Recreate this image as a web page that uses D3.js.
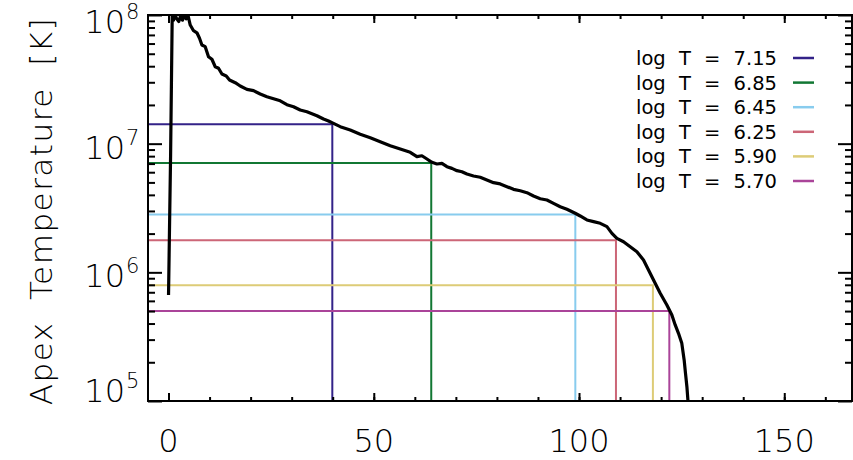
<!DOCTYPE html>
<html>
<head>
<meta charset="utf-8">
<script src="https://cdn.jsdelivr.net/npm/d3@7"></script>
<style>
  body { margin: 0; background: #fff; }
  text { font-family: "DejaVu Sans", sans-serif; font-weight: 200; fill: #000; }
</style>
</head>
<body>
<svg id="chart" width="853" height="460"></svg>
<script>

// apex temperature curve: loop length (x) vs log10 of apex temperature
var curveX = [0, 0.5, 0.9, 1.2, 1.6, 2.0, 2.5, 3.0, 3.4, 3.8, 4.3, 4.8, 5.29, 6.09, 6.92, 7.55, 8.13, 8.94,
  9.74, 10.57, 11.38, 12.18, 13.01, 14.06, 14.86, 16.25, 17.47, 19.10, 20.71, 22.34, 23.97, 25.58,
  27.21, 28.84, 30.45, 32.08, 33.71, 36.15, 37.76, 38.98, 40.19, 41.83, 44.26, 46.70, 49.14, 51.57,
  54.01, 56.45, 58.88, 60.51, 61.73, 62.95, 64.16, 65.38, 66.60, 67.82, 69.04, 70.26, 71.47, 72.69,
  74.30, 75.93, 77.55, 79.18, 80.80, 82.44, 84.04, 85.68, 87.30, 88.92, 90.55, 92.18, 93.79, 95.42,
  97.05, 99.07, 100.29, 101.92, 103.54, 105.17, 106.80, 108.02, 109.23, 110.84, 112.47, 114.10,
  115.71, 116.93, 118.15, 119.78, 121.40, 122.62, 123.43, 124.23, 125.04, 125.61, 125.94, 126.28,
  126.52, 126.8];
var curveLogT = [5.824, 6.9, 8.0, 7.96, 8.0, 7.97, 7.95, 8.0, 7.96, 8.0, 7.97, 7.99, 7.922, 7.878, 7.862,
  7.819, 7.767, 7.754, 7.676, 7.656, 7.598, 7.586, 7.541, 7.526, 7.495, 7.474, 7.448, 7.422, 7.412,
  7.386, 7.365, 7.349, 7.333, 7.303, 7.287, 7.262, 7.248, 7.217, 7.192, 7.176, 7.158, 7.132, 7.106,
  7.073, 7.046, 7.015, 6.984, 6.958, 6.933, 6.899, 6.906, 6.881, 6.855, 6.842, 6.847, 6.821, 6.808,
  6.790, 6.782, 6.764, 6.749, 6.739, 6.718, 6.697, 6.687, 6.666, 6.645, 6.634, 6.619, 6.593, 6.572,
  6.562, 6.536, 6.510, 6.490, 6.459, 6.438, 6.407, 6.394, 6.381, 6.355, 6.303, 6.264, 6.238, 6.199,
  6.160, 6.096, 6.018, 5.940, 5.837, 5.746, 5.668, 5.591, 5.526, 5.448, 5.319, 5.215, 5.111, 5.008, 4.9];

// threshold temperatures and where they cut the curve
var levelLogT = [7.15, 6.85, 6.45, 6.25, 5.90, 5.70];
var levelX = [39.9, 64.0, 99.1, 109.0, 118.0, 122.0];
var levelLabels = ["7.15", "6.85", "6.45", "6.25", "5.90", "5.70"];
var levelColors = ["#332288", "#117733", "#88ccee", "#cc6677", "#ddcc77", "#aa4499"];

var xMajor = [0, 50, 100, 150];
var xMinor = d3.range(0, 170, 10);
var yMajor = [1e5, 1e6, 1e7, 1e8];

var svg = d3.select("#chart"),
    plotLeft = 148, plotRight = 852, plotTop = 15, plotBottom = 401;

var x = d3.scaleLinear().domain([-5, 166.5]).range([plotLeft, plotRight]);
var y = d3.scaleLog().domain([1e5, 1e8]).range([plotBottom, plotTop]);

var yMinor = [];
[1e5, 1e6, 1e7].forEach(function(d) {
  for (var k = 2; k <= 9; k++) yMinor.push(d * k);
});

svg.append("clipPath").attr("id", "plotclip")
  .append("rect")
    .attr("x", plotLeft).attr("y", plotTop)
    .attr("width", plotRight - plotLeft).attr("height", plotBottom - plotTop);

var plot = svg.append("g").attr("clip-path", "url(#plotclip)");

// coloured level lines: horizontal to the crossing, then down to the axis
levelLogT.forEach(function(v, i) {
  var t = Math.pow(10, v);
  var pts = [[-5, t], [levelX[i], t], [levelX[i], 1e5]];
  plot.append("path")
      .datum(pts)
      .attr("fill", "none")
      .attr("stroke", levelColors[i])
      .attr("stroke-width", 2)
      .attr("d", d3.line()
        .x(function(d) { return x(d[0]); })
        .y(function(d) { return y(d[1]); }));
});

var curve = curveX.map(function(d, i) { return { x: d, t: Math.pow(10, curveLogT[i]) }; });

plot.append("path")
    .datum(curve)
    .attr("fill", "none")
    .attr("stroke", "#000")
    .attr("stroke-width", 3.2)
    .attr("stroke-linejoin", "round")
    .attr("d", d3.line()
      .x(function(d) { return x(d.x); })
      .y(function(d) { return y(d.t); }));

// ticks on all four sides, pointing inward
function ticks(axis, tx, ty) {
  var g = svg.append("g")
      .attr("transform", "translate(" + tx + "," + ty + ")")
      .call(axis);
  g.select(".domain").remove();
  g.selectAll("text").remove();
  g.selectAll("line").attr("stroke", "#000").attr("stroke-width", 2);
}
ticks(d3.axisBottom(x).tickValues(xMinor).tickSize(-4), 0, plotBottom);
ticks(d3.axisBottom(x).tickValues(xMajor).tickSize(-8), 0, plotBottom);
ticks(d3.axisTop(x).tickValues(xMinor).tickSize(-4), 0, plotTop);
ticks(d3.axisTop(x).tickValues(xMajor).tickSize(-8), 0, plotTop);
ticks(d3.axisLeft(y).tickValues(yMinor).tickSize(-7), plotLeft, 0);
ticks(d3.axisLeft(y).tickValues(yMajor).tickSize(-14), plotLeft, 0);
ticks(d3.axisRight(y).tickValues(yMinor).tickSize(-7), plotRight, 0);
ticks(d3.axisRight(y).tickValues(yMajor).tickSize(-14), plotRight, 0);

svg.append("rect")
    .attr("x", plotLeft).attr("y", plotTop)
    .attr("width", plotRight - plotLeft).attr("height", plotBottom - plotTop)
    .attr("fill", "none")
    .attr("stroke", "#000")
    .attr("stroke-width", 2);

// x tick labels
svg.selectAll(".xlab")
  .data(xMajor)
  .enter().append("text")
    .attr("x", function(d) { return x(d); })
    .attr("y", 452)
    .attr("text-anchor", "middle")
    .style("font-size", "32px")
    .text(function(d) { return d; });

// y tick labels as 10 with a raised exponent, kept inside the picture
yMajor.forEach(function(d) {
  var base = Math.max(Math.min(y(d) + 15, 402), 33);
  svg.append("text")
      .attr("x", 125).attr("y", base)
      .attr("text-anchor", "end")
      .style("font-size", "32px")
      .text("10");
  svg.append("text")
      .attr("x", 126).attr("y", base - 14)
      .style("font-size", "21px")
      .text(Math.round(Math.log10(d)));
});

svg.append("text")
    .attr("transform", "translate(52,211) rotate(-90)")
    .attr("text-anchor", "middle")
    .style("font-size", "31px")
    .style("letter-spacing", "1.5px")
    .style("word-spacing", "10px")
    .text("Apex Temperature [K]");

// legend
var legend = svg.append("g");
levelLabels.forEach(function(d, i) {
  var ly = 58 + i * 24.6;
  legend.append("text")
      .attr("x", 777).attr("y", ly + 7)
      .attr("text-anchor", "end")
      .style("font-size", "19.5px")
      .style("font-weight", 400)
      .style("word-spacing", "7px")
      .text("log T = " + d);
  legend.append("line")
      .attr("x1", 793).attr("x2", 814)
      .attr("y1", ly).attr("y2", ly)
      .attr("stroke", levelColors[i])
      .attr("stroke-width", 2.5);
});
</script>
</body>
</html>
